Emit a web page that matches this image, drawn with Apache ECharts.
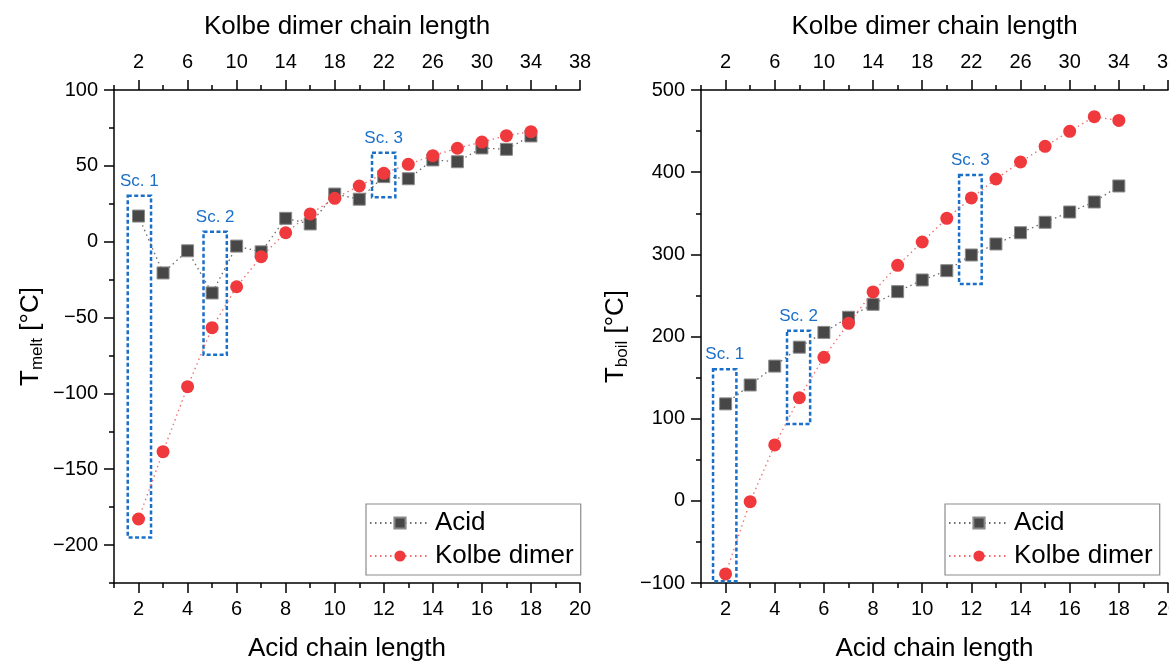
<!DOCTYPE html>
<html>
<head>
<meta charset="utf-8">
<script src="https://cdn.jsdelivr.net/npm/echarts@6/dist/echarts.min.js"></script>
<style>
html,body{margin:0;padding:0;background:#fff;}
#chart{width:1169px;height:662px;}
</style>
</head>
<body>
<div id="chart"></div>
<script>
// ---------- DATA ----------
const acidChainLength = [2,3,4,5,6,7,8,9,10,11,12,13,14,15,16,17,18];
const meltAcid  = [16.9,-20.6,-6,-33.8,-2.9,-6.7,15.4,11.7,31.4,28,42.9,41.5,53.9,52.7,61.8,60.9,69.7];
const meltKolbe = [-182.8,-138.4,-95.6,-56.7,-29.7,-9.9,5.9,18.3,28.6,36.7,45.1,51,56.7,61.6,65.7,69.9,72.5];
const boilAcid  = [118,141,164,187,205,223.4,239.2,254.6,268.8,280.1,299.2,312.6,326.3,339,351.5,363.7,383.2];
const boilKolbe = [-89,-1,68,125.5,174.7,216,254.2,286.6,315,343.8,368.6,391.7,412.4,431.5,449.7,467.5,463];

const bottomMajorTicks = [2,4,6,8,10,12,14,16,18,20];
const bottomMinorTicks = [1,3,5,7,9,11,13,15,17,19];
const topMajorTicks = [2,6,10,14,18,22,26,30,34,38];
const topMinorTicks = [0,4,8,12,16,20,24,28,32,36];
const meltMajorTicks = [-200,-150,-100,-50,0,50,100];
const meltMinorTicks = [-225,-175,-125,-75,-25,25,75];
const boilMajorTicks = [-100,0,100,200,300,400,500];
const boilMinorTicks = [-50,50,150,250,350,450];

// scheme boxes: [label, xFrom, xTo, yFrom, yTo]
const meltBoxes = [
  ['Sc. 1', 1.56, 2.51, -195, 30.3],
  ['Sc. 2', 4.65, 5.6, -74.5, 6.6],
  ['Sc. 3', 11.52, 12.47, 29.3, 58.7]
];
const boilBoxes = [
  ['Sc. 1', 1.49, 2.44, -98, 160],
  ['Sc. 2', 4.5, 5.44, 93.5, 207],
  ['Sc. 3', 11.5, 12.42, 264, 396.6]
];

// ---------- STYLE ----------
const FONT = 'Arial, "Liberation Sans", sans-serif';
const BLUE = '#1a6fc8';
const axisLineStyle = {color:'#000', width:1.5};
const fmtNum = v => String(v).replace('-', '\u2212');

function xAxesFor(g){
  const base = {gridIndex:g, type:'value', splitLine:{show:false}};
  return [
    Object.assign({}, base, {
      position:'bottom', min:1, max:20,
      axisLine:{show:true, onZero:false, lineStyle:axisLineStyle},
      axisTick:{show:true, length:10, customValues:bottomMajorTicks, lineStyle:axisLineStyle},
      axisLabel:{show:true, customValues:bottomMajorTicks, margin:16, fontSize:20, color:'#000', fontFamily:FONT, formatter:fmtNum},
      name:'Acid chain length', nameLocation:'middle', nameGap:53,
      nameTextStyle:{fontSize:26, color:'#000', fontFamily:FONT}
    }),
    Object.assign({}, base, {
      position:'top', min:0, max:38,
      axisLine:{show:true, onZero:false, lineStyle:axisLineStyle},
      axisTick:{show:true, length:10, customValues:topMajorTicks, lineStyle:axisLineStyle},
      axisLabel:{show:true, customValues:topMajorTicks, margin:18, fontSize:20, color:'#000', fontFamily:FONT},
      name:'Kolbe dimer chain length', nameLocation:'middle', nameGap:50,
      nameTextStyle:{fontSize:26, color:'#000', fontFamily:FONT}
    }),
    Object.assign({}, base, {
      position:'bottom', min:1, max:20,
      axisLine:{show:false, onZero:false},
      axisTick:{show:true, length:5, customValues:bottomMinorTicks, lineStyle:axisLineStyle},
      axisLabel:{show:false}
    }),
    Object.assign({}, base, {
      position:'top', min:0, max:38,
      axisLine:{show:false, onZero:false},
      axisTick:{show:true, length:5, customValues:topMinorTicks, lineStyle:axisLineStyle},
      axisLabel:{show:false}
    })
  ];
}

function yAxesFor(g, min, max, major, minor, nameRich, gap){
  const base = {gridIndex:g, type:'value', position:'left', min:min, max:max, splitLine:{show:false}};
  return [
    Object.assign({}, base, {
      axisLine:{show:true, onZero:false, lineStyle:axisLineStyle},
      axisTick:{show:true, length:10, customValues:major, lineStyle:axisLineStyle},
      axisLabel:{show:true, customValues:major, margin:16, fontSize:20, color:'#000', fontFamily:FONT, formatter:fmtNum},
      name:nameRich, nameLocation:'middle', nameGap:gap,
      nameTextStyle:{color:'#000', fontFamily:FONT, rich:{
        a:{fontSize:26, color:'#000', fontFamily:FONT, lineHeight:30},
        b:{fontSize:17, color:'#000', fontFamily:FONT, lineHeight:30, verticalAlign:'bottom'}
      }}
    }),
    Object.assign({}, base, {
      axisLine:{show:false, onZero:false},
      axisTick:{show:true, length:5, customValues:minor, lineStyle:axisLineStyle},
      axisLabel:{show:false}
    })
  ];
}

function boxData(boxes){
  return boxes.map(b => [
    {name:b[0], coord:[b[1], b[4]]},
    {coord:[b[2], b[3]]}
  ]);
}

function seriesFor(g, acidVals, kolbeVals, boxes){
  const xi = g*4, yi = g*2;
  const pts = vals => acidChainLength.map((x,i) => [x, vals[i]]);
  return [
    {
      name:'Acid', type:'line', xAxisIndex:xi, yAxisIndex:yi,
      data:pts(acidVals), symbol:'rect', symbolSize:12,
      itemStyle:{color:'#474747', borderColor:'#8a8a8a', borderWidth:1},
      lineStyle:{color:'#6a6a6a', width:1.3, type:[1.5,3.5]},
      emphasis:{disabled:true}, animation:false, z:2,
      markArea:{
        silent:true,
        itemStyle:{color:'rgba(0,0,0,0)', borderColor:BLUE, borderWidth:2.5, borderType:[4,2.5]},
        label:{show:true, position:'top', distance:5, color:BLUE, fontSize:17, fontFamily:FONT},
        data:boxData(boxes)
      }
    },
    {
      name:'Kolbe dimer', type:'line', xAxisIndex:xi, yAxisIndex:yi,
      data:pts(kolbeVals), symbol:'circle', symbolSize:13,
      itemStyle:{color:'#f0393c'},
      lineStyle:{color:'#f26a6a', width:1.3, type:[1.5,3.5]},
      emphasis:{disabled:true}, animation:false, z:3
    }
  ];
}

function legendFor(left){
  return {
    left:left, top:504, orient:'vertical',
    data:['Acid','Kolbe dimer'],
    itemWidth:60, itemHeight:14, itemGap:7,
    padding:[6,7,6,3],
    borderColor:'#8c8c8c', borderWidth:1.2,
    textStyle:{fontSize:26, color:'#000', fontFamily:FONT},
    selectedMode:false
  };
}

const option = {
  animation:false,
  backgroundColor:'#fff',
  grid:[
    {left:114, top:90, width:466, height:493, containLabel:false, outerBoundsMode:'none'},
    {left:701, top:90, width:467, height:493, containLabel:false, outerBoundsMode:'none'}
  ],
  xAxis:[].concat(xAxesFor(0), xAxesFor(1)),
  yAxis:[].concat(
    yAxesFor(0, -225, 100, meltMajorTicks, meltMinorTicks, '{a|T}{b|melt}{a| [°C]}', 68),
    yAxesFor(1, -100, 500, boilMajorTicks, boilMinorTicks, '{a|T}{b|boil}{a| [°C]}', 70)
  ),
  legend:[legendFor(366), legendFor(945)],
  series:[].concat(
    seriesFor(0, meltAcid, meltKolbe, meltBoxes),
    seriesFor(1, boilAcid, boilKolbe, boilBoxes)
  )
};

const chart = echarts.init(document.getElementById('chart'), null, {renderer:'canvas'});
chart.setOption(option);
</script>
</body>
</html>
